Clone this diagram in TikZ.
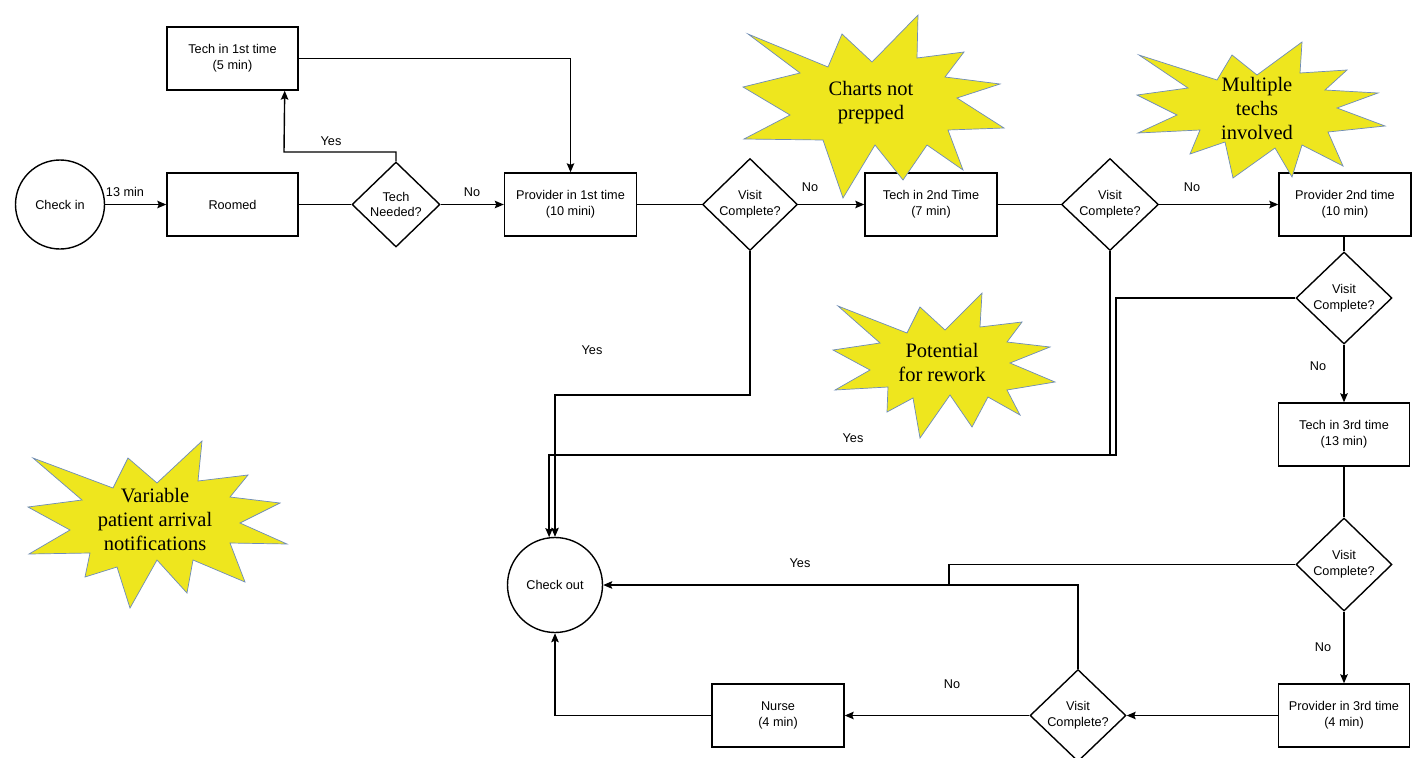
\documentclass[tikz,border=0pt]{standalone}
\usepackage{fontspec}
\setmainfont{Liberation Sans}
\newfontfamily\burstserif{Liberation Serif}
\usetikzlibrary{shapes.geometric,arrows.meta,calc}
\definecolor{burstyellow}{RGB}{238,230,30}
\definecolor{burstedge}{RGB}{110,140,185}
\newcommand\flowfont{\fontsize{12.7}{15.7}\selectfont}
\begin{document}
\begin{tikzpicture}[x=1pt,y=-1pt,
  box/.style={draw, line width=1.4pt, minimum width=131pt, minimum height=63pt, inner sep=2pt, align=center, font=\flowfont},
  dec/.style={draw, diamond, aspect=1, line width=1.4pt, inner sep=0pt, align=center, font=\flowfont},
  term/.style={draw, circle, line width=1.4pt, inner sep=0pt, font=\flowfont},
  ln/.style={line width=1.4pt},
  arr/.style={line width=1.4pt, -{Stealth[length=9pt,width=7.5pt,inset=1.5pt]}},
  lbl/.style={font=\flowfont, inner sep=1pt},
  burst/.style={fill=burstyellow, draw=burstedge, line width=0.7pt, line join=miter},
  bursttext/.style={font=\burstserif\fontsize{20.5}{24}\selectfont, align=center, inner sep=0pt}
]
\useasboundingbox[fill=white] (0,0) rectangle (1417,758);

% nodes
\node[term, minimum size=89pt] (checkin) at (60,204.5) {Check in};
\node[box] (roomed) at (232.5,204.5) {Roomed};
\node[box] (tech1) at (232.5,58.5) {Tech in 1st time\\(5 min)};
\node[dec, minimum width=88pt, minimum height=85pt] (techq) at (396,204.5) {Tech\\Needed?};
\node[box, minimum width=132pt] (prov1) at (570.5,204.5) {Provider in 1st time\\(10 mini)};
\node[dec, minimum width=95pt, minimum height=92pt] (v1) at (750,204.5) {Visit\\Complete?};
\node[box, minimum width=132pt] (tech2) at (931,204.5) {Tech in 2nd Time\\(7 min)};
\node[dec, minimum width=97pt, minimum height=92pt] (v2) at (1110,204.5) {Visit\\Complete?};
\node[box, minimum width=132pt] (prov2) at (1345,204.5) {Provider 2nd time\\(10 min)};
\node[dec, minimum width=96pt, minimum height=92pt] (v3) at (1344,298) {Visit\\Complete?};
\node[box] (tech3) at (1344,434.5) {Tech in 3rd time\\(13 min)};
\node[dec, minimum width=96pt, minimum height=93pt] (v4) at (1344,564.5) {Visit\\Complete?};
\node[box] (prov3) at (1344,715.5) {Provider in 3rd time\\(4 min)};
\node[dec, minimum width=96pt, minimum height=92pt] (v5) at (1078,715.5) {Visit\\Complete?};
\node[box, minimum width=132pt] (nurse) at (778,715.5) {Nurse\\(4 min)};
\node[term, minimum size=95pt] (checkout) at (555,585) {Check out};

% bend points
\coordinate (b1) at (284,152);
\coordinate (b2) at (750,395);
\coordinate (b3) at (1110,455);
\coordinate (b4) at (1116,298);
\coordinate (b5) at (1116,455);
\coordinate (b6) at (949,585);

% connectors
\draw[arr] (checkin.east) -- (roomed.west);
\draw[ln] (roomed.east) -- (techq.west);
\draw[arr] (techq.east) -- (prov1.west);
\draw[arr] (techq.north) |- (b1) -- ([xshift=-14pt]tech1.south east);
\draw[arr] (tech1.east) -| (prov1.north);
\draw[ln] (prov1.east) -- (v1.west);
\draw[arr] (v1.east) -- (tech2.west);
\draw[ln] (tech2.east) -- (v2.west);
\draw[arr] (v2.east) -- (prov2.west);
\draw[ln] (prov2.south -| v3.north) -- (v3.north);
\draw[arr] (v3.south) -- (tech3.north);
\draw[ln] (tech3.south) -- (v4.north);
\draw[arr] (v4.south) -- (prov3.north);
\draw[arr] (prov3.west) -- (v5.east);
\draw[arr] (v5.west) -- (nurse.east);
\draw[arr] (nurse.west) -| (checkout.south);
\draw[arr] (v1.south) -- (b2) -| (checkout.north);
\draw[arr] (v2.south) -- (b3) -| (checkout.97);
\draw[ln] (v3.west) -- (b4) -- (b5) -- (b3);
\draw[arr] (v5.north) |- (checkout.east);
\draw[ln] (v4.west) -| (b6);

% connector labels
\node[lbl] (l13) at (125,192) {13 min};
\node[lbl] (lyes0) at (331,141) {Yes};
\node[lbl] (lno0) at (472,192) {No};
\node[lbl] (lno1) at (810,187) {No};
\node[lbl] (lno2) at (1192,187) {No};
\node[lbl] (lyes1) at (592,350) {Yes};
\node[lbl] (lyes2) at (853,438) {Yes};
\node[lbl] (lno3) at (1318,366) {No};
\node[lbl] (lyes4) at (800,563) {Yes};
\node[lbl] (lno4) at (1323,647) {No};
\node[lbl] (lno5) at (952,684) {No};

% starbursts
\draw[burst] (748,34) -- (828,67) -- (842,34) -- (872,62) -- (918,15) -- (917,58) -- (964,52) -- (945,77) -- (1000,84) -- (957,98) -- (1004,128) -- (948,130) -- (963,170) -- (927,145) -- (903,180) -- (875,145) -- (843,198) -- (823,140) -- (744,139) -- (790,115) -- (743,87) -- (800,73) -- cycle;
\node[bursttext] (charts) at (871,103) {Charts not\\prepped};

\draw[burst] (1139,55) -- (1217,80) -- (1232,55) -- (1257,75) -- (1302,42) -- (1300,73) -- (1347,70) -- (1325,90) -- (1378,93) -- (1337,108) -- (1385,126) -- (1328,132) -- (1343,166) -- (1302,145) -- (1292,177) -- (1275,148) -- (1233,178) -- (1225,142) -- (1190,154) -- (1200,130) -- (1138,133) -- (1177,115) -- (1137,95) -- (1188,88) -- cycle;
\node[bursttext] (multi) at (1257,108) {Multiple\\techs\\involved};

\draw[burst] (838,306) -- (907,333) -- (920,307) -- (945,330) -- (982,293) -- (980,327) -- (1022,322) -- (1007,342) -- (1050,347) -- (1010,363) -- (1055,382) -- (1007,390) -- (1020,415) -- (988,397) -- (972,427) -- (950,395) -- (920,438) -- (913,398) -- (887,412) -- (888,387) -- (835,390) -- (870,370) -- (833,350) -- (880,343) -- cycle;
\node[bursttext] (rework) at (942,362) {Potential\\for rework};

\draw[burst] (33,458) -- (113,488) -- (128,458) -- (157,483) -- (202,441) -- (198,481) -- (248,475) -- (230,497) -- (280,503) -- (240,523) -- (287,544) -- (230,543) -- (245,582) -- (193,560) -- (187,593) -- (157,560) -- (130,608) -- (117,567) -- (85,577) -- (90,553) -- (29,554) -- (70,530) -- (28,507) -- (82,500) -- cycle;
\node[bursttext] (arrival) at (155,519) {Variable\\patient arrival\\notifications};
\end{tikzpicture}
\end{document}
